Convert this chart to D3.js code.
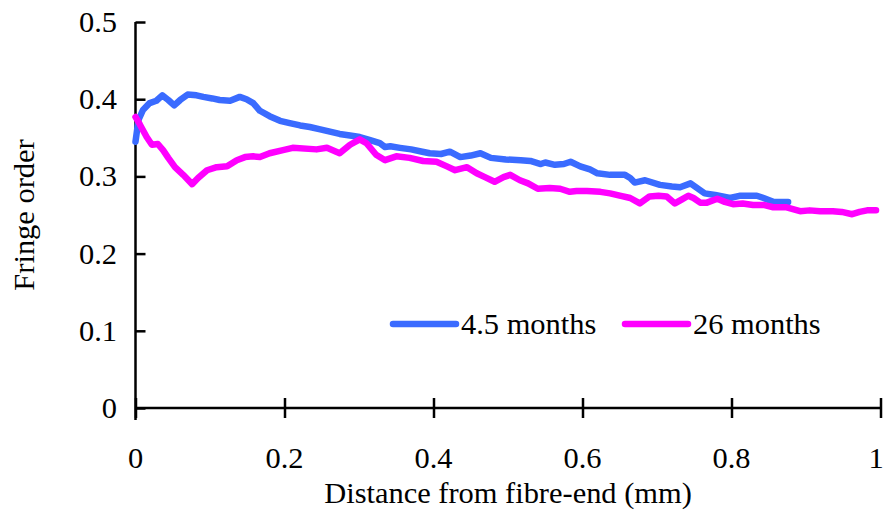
<!DOCTYPE html>
<html>
<head>
<meta charset="utf-8">
<script src="https://cdn.jsdelivr.net/npm/d3@7"></script>
<style>
  body { margin: 0; background: #fff; }
  text { font-family: "Liberation Serif", "Times New Roman", serif; fill: #000; }
  .axis path, .axis line { stroke: #000; stroke-width: 2.5; }
</style>
</head>
<body>
<div id="chart"></div>
<script>
// distance from fibre-end (mm) and fringe order
var blueX = [0, 0.004, 0.01, 0.019, 0.028, 0.036, 0.044, 0.052, 0.06, 0.07, 0.082, 0.091, 0.103, 0.113, 0.127, 0.14, 0.149, 0.158, 0.167, 0.18,
  0.194, 0.207, 0.221, 0.234, 0.248, 0.261, 0.274, 0.288, 0.301, 0.315, 0.328, 0.335, 0.342, 0.355, 0.37, 0.385, 0.395, 0.41, 0.422, 0.436,
  0.45, 0.463, 0.477, 0.497, 0.517, 0.53, 0.544, 0.55, 0.563, 0.575, 0.584, 0.597, 0.61, 0.62, 0.637, 0.657, 0.664, 0.67, 0.684, 0.704,
  0.72, 0.731, 0.745, 0.764, 0.778, 0.798, 0.812, 0.834, 0.843, 0.856, 0.876];
var blueY = [0.345, 0.373, 0.386, 0.395, 0.398, 0.405, 0.399, 0.392, 0.399, 0.406, 0.405, 0.403, 0.401, 0.399, 0.398, 0.403, 0.400, 0.395, 0.385, 0.378,
  0.372, 0.369, 0.366, 0.364, 0.361, 0.358, 0.355, 0.353, 0.351, 0.347, 0.343, 0.338, 0.339, 0.337, 0.335, 0.332, 0.330, 0.329, 0.332, 0.325,
  0.327, 0.330, 0.324, 0.322, 0.321, 0.320, 0.316, 0.318, 0.315, 0.316, 0.319, 0.313, 0.309, 0.304, 0.302, 0.302, 0.298, 0.292, 0.295, 0.289,
  0.287, 0.286, 0.291, 0.278, 0.276, 0.272, 0.275, 0.275, 0.272, 0.267, 0.267];

var pinkX = [0, 0.006, 0.015, 0.022, 0.03, 0.037, 0.044, 0.053, 0.064, 0.076, 0.084, 0.096, 0.109, 0.123, 0.136, 0.147, 0.158, 0.167, 0.18, 0.198,
  0.211, 0.243, 0.257, 0.274, 0.288, 0.301, 0.31, 0.323, 0.335, 0.35, 0.368, 0.386, 0.404, 0.418, 0.429, 0.445, 0.458, 0.469, 0.482, 0.494,
  0.503, 0.516, 0.527, 0.54, 0.556, 0.57, 0.583, 0.592, 0.606, 0.624, 0.637, 0.65, 0.664, 0.677, 0.69, 0.702, 0.713, 0.724, 0.733, 0.742,
  0.749, 0.758, 0.767, 0.781, 0.791, 0.802, 0.815, 0.829, 0.843, 0.856, 0.874, 0.892, 0.905, 0.919, 0.936, 0.948, 0.962, 0.972, 0.982, 0.994];
var pinkY = [0.377, 0.367, 0.351, 0.341, 0.342, 0.334, 0.324, 0.312, 0.302, 0.290, 0.298, 0.308, 0.312, 0.313, 0.321, 0.325, 0.326, 0.325, 0.330, 0.334,
  0.337, 0.335, 0.337, 0.330, 0.341, 0.348, 0.343, 0.328, 0.321, 0.326, 0.324, 0.320, 0.319, 0.313, 0.308, 0.312, 0.304, 0.299, 0.293, 0.299,
  0.302, 0.295, 0.291, 0.284, 0.285, 0.284, 0.280, 0.281, 0.281, 0.280, 0.278, 0.275, 0.272, 0.265, 0.274, 0.275, 0.274, 0.265, 0.270, 0.275,
  0.272, 0.266, 0.266, 0.271, 0.267, 0.264, 0.265, 0.263, 0.263, 0.260, 0.260, 0.255, 0.256, 0.255, 0.255, 0.254, 0.251, 0.254, 0.256, 0.256];

var seriesNames = ["4.5 months", "26 months"];
var seriesColors = ["#3a6bff", "#ff00ff"];
var xTicks = [0, 0.2, 0.4, 0.6, 0.8, 1];
var yTicks = [0, 0.1, 0.2, 0.3, 0.4, 0.5];

var width = 883, height = 525;
var fontSize = 29, stretch = 1.05;

var svg = d3.select("#chart").append("svg")
    .attr("width", width)
    .attr("height", height);

var x = d3.scaleLinear().domain([0, 1]).range([135.5, 880.5]);
var y = d3.scaleLinear().domain([0, 0.5]).range([408, 22]);

// text in the picture is a bit wide, so stretch it sideways
function stretchedText(g, str, px, py, anchor, rotate) {
    var t = g.append("text")
        .attr("transform", "translate(" + px + "," + py + ")" + (rotate ? " rotate(" + rotate + ")" : "") + " scale(" + stretch + ",1)")
        .attr("text-anchor", anchor)
        .style("font-size", fontSize + "px")
        .text(str);
    return t;
}

// axes
var xAxis = svg.append("g")
    .attr("class", "axis")
    .attr("transform", "translate(0," + y(0) + ")")
    .call(d3.axisBottom(x).tickValues(xTicks).tickSize(10).tickFormat(""));
xAxis.select(".domain").attr("d", "M" + x(0) + ",0H" + x(1));
xAxis.selectAll(".tick line").attr("y1", -10);

var yAxis = svg.append("g")
    .attr("class", "axis")
    .attr("transform", "translate(" + x(0) + ",0)")
    .call(d3.axisLeft(y).tickValues(yTicks).tickSize(10).tickFormat(""));
yAxis.select(".domain").attr("d", "M0," + y(0.5) + "V" + (y(0) + 12));
yAxis.selectAll(".tick line").attr("x2", 10);

var labels = svg.append("g");
xTicks.forEach(v => stretchedText(labels, d3.format("")(v), Math.min(x(v), 876), 468, "middle"));
yTicks.forEach(v => stretchedText(labels, d3.format("")(v), 117, y(v) + 10, "end"));

stretchedText(labels, "Distance from fibre-end (mm)", (x(0) + x(1)) / 2, 503, "middle");
stretchedText(labels, "Fringe order", 34, (y(0) + y(0.5)) / 2, "middle", -90);

// lines
var line = d3.line()
    .x(d => x(d[0]))
    .y(d => y(d[1]));

var blueData = blueX.map((v, i) => [v, blueY[i]]);
var pinkData = pinkX.map((v, i) => [v, pinkY[i]]);

[blueData, pinkData].forEach((data, i) => {
    svg.append("path")
        .datum(data)
        .attr("fill", "none")
        .attr("stroke", seriesColors[i])
        .attr("stroke-width", 6.5)
        .attr("stroke-linejoin", "round")
        .attr("stroke-linecap", "round")
        .attr("d", line);
});

// legend
var legendX = [393, 625];
var legend = svg.append("g");
seriesNames.forEach((name, i) => {
    legend.append("line")
        .attr("x1", legendX[i]).attr("x2", legendX[i] + 63)
        .attr("y1", 324).attr("y2", 324)
        .attr("stroke", seriesColors[i])
        .attr("stroke-width", 6.5)
        .attr("stroke-linecap", "round");
    stretchedText(legend, name, legendX[i] + 68, 334, "start");
});
</script>
</body>
</html>
